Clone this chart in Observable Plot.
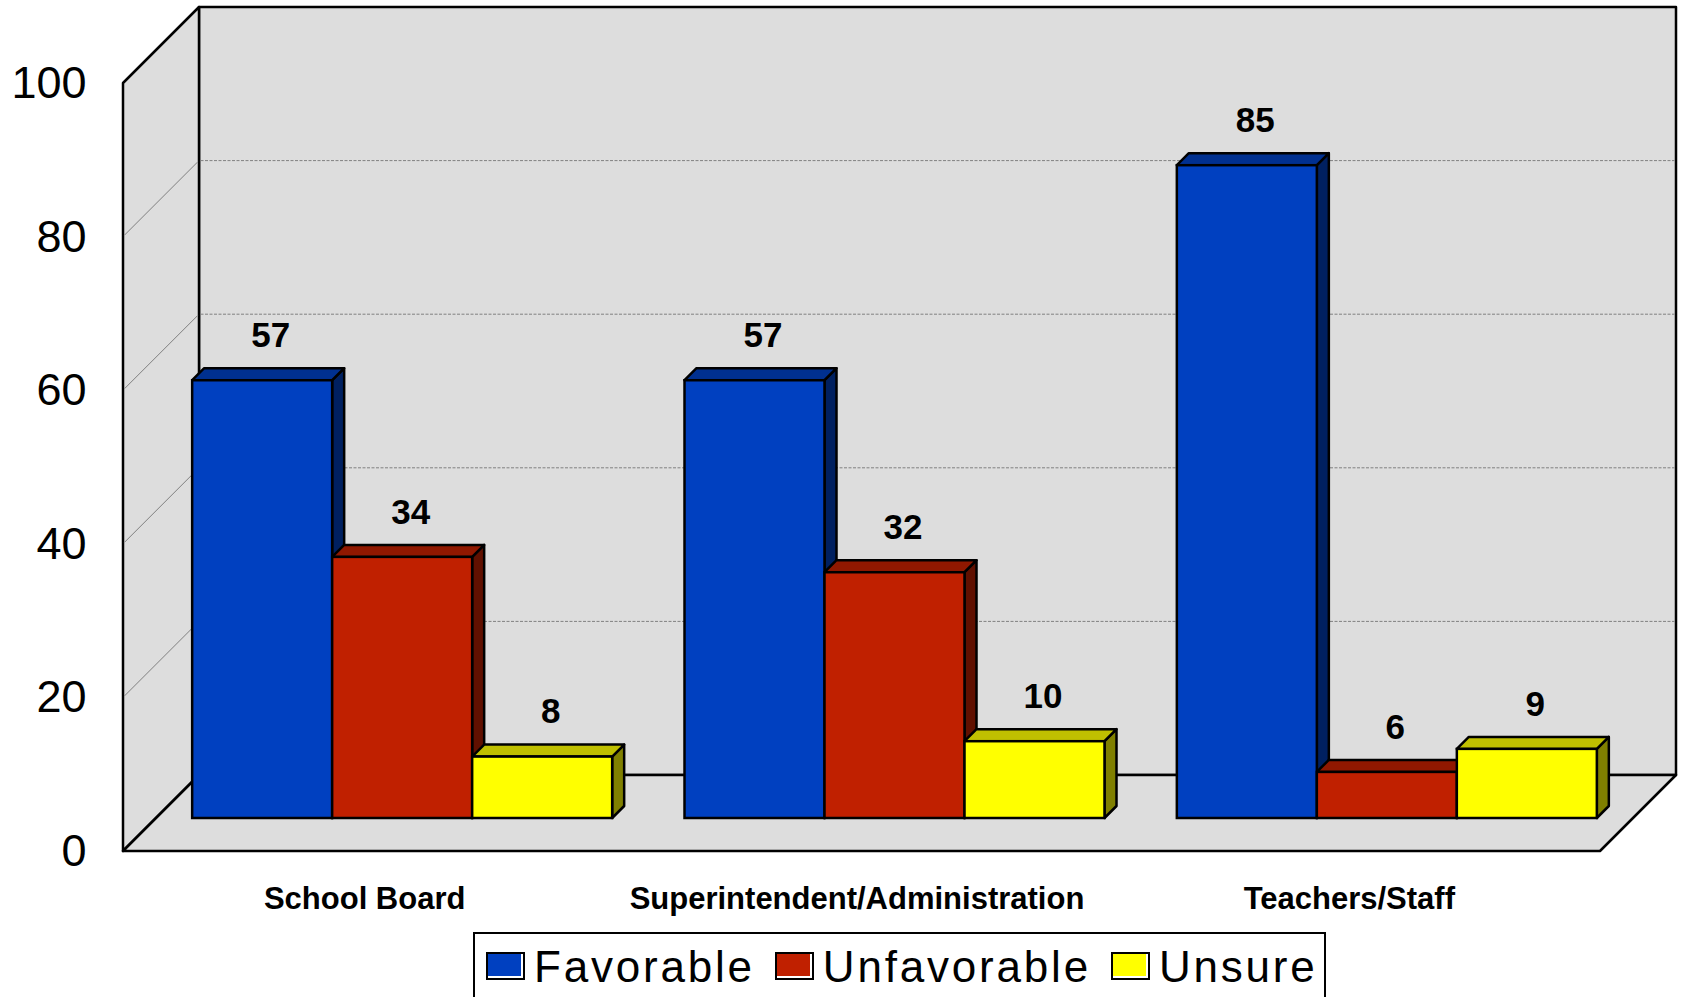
<!DOCTYPE html>
<html>
<head>
<meta charset="utf-8">
<script src="https://cdn.jsdelivr.net/npm/d3@7"></script>
<script src="https://cdn.jsdelivr.net/npm/@observablehq/plot@0.6"></script>
<style>
  body { margin: 0; background: #fff; font-family: "Liberation Sans", Arial, sans-serif; }
  #wrap { position: relative; width: 1682px; height: 997px; overflow: hidden; background: #fff; }
  #wrap svg { display: block; }
  #legend {
    position: absolute; left: 473px; top: 932px; width: 853px; height: 90px;
    border: 2px solid #000; box-sizing: border-box; background: #fff;
    padding: 11px 0 0 11px; font-size: 44px; line-height: 44px;
    letter-spacing: 2.8px; white-space: nowrap; color: #000;
  }
  .item { display: inline-flex; align-items: baseline; margin-right: 20px; }
  .sw { display: inline-block; width: 39px; height: 28px; box-sizing: border-box; position: relative; top: -2px;
        border: 2px solid #000; box-shadow: inset -2px -2px 0 #fff; margin-right: 9px; }
</style>
</head>
<body>
<div id="wrap"></div>
<script>
// ---- data ----
const categories = ["School Board", "Superintendent/Administration", "Teachers/Staff"];
const seriesNames = ["Favorable", "Unfavorable", "Unsure"];
const favorable = [57, 57, 85];
const unfavorable = [34, 32, 6];
const unsure = [8, 10, 9];
const yTicks = [0, 20, 40, 60, 80, 100];
const gridValues = [20, 40, 60, 80];

// ---- styles ----
const frontColors = ["#0040C0", "#C02000", "#FFFF00"];
const topColors = ["#003090", "#901800", "#C0C000"];
const sideColors = ["#002060", "#601000", "#808000"];

const valuesBySeries = [favorable, unfavorable, unsure];
const rows = categories.flatMap((c, ci) =>
  seriesNames.map((s, si) => ({category: c, series: s, si, value: valuesBySeries[si][ci]})));

const W = 1682, H = 920, mTop = 83, mBottom = 69, mLeft = 123, mRight = 82;
const WALL = 76;   // depth of the 3D box (px)
const SHIFT = 33;  // depth position of the bars (px)
const BAR_D = 12;  // bar thickness (px)
const BAR_W = 140; // bar width (px)
const bandW = (W - mLeft - mRight) / categories.length;
const pad = (bandW - BAR_W * seriesNames.length) / 2;
const LABEL_NUDGE = 8;
const LABEL_RISE = 45;

function pts(a) { return a.map(p => p.join(",")).join(" "); }

function walls(index, scales, values, dims) {
  const y = scales.y;
  const L = dims.marginLeft, R = dims.width - dims.marginRight;
  const y0 = y(0), y1 = y(100);
  const g = d3.create("svg:g");
  const poly = (p) => g.append("polygon").attr("points", pts(p))
    .attr("fill", "#DDDDDD").attr("stroke", "#000").attr("stroke-width", 2.5).attr("stroke-linejoin", "round");
  poly([[L + WALL, y1 - WALL], [R + WALL, y1 - WALL], [R + WALL, y0 - WALL], [L + WALL, y0 - WALL]]);
  poly([[L, y1], [L + WALL, y1 - WALL], [L + WALL, y0 - WALL], [L, y0]]);
  for (const v of gridValues) {
    const yv = y(v);
    g.append("line").attr("x1", L + WALL + 1.5).attr("x2", R + WALL - 1.5)
      .attr("y1", yv - WALL).attr("y2", yv - WALL)
      .attr("stroke", "#808080").attr("stroke-width", 1).attr("stroke-dasharray", "3,1.5");
    g.append("line").attr("x1", L + 1.5).attr("x2", L + WALL - 1.5)
      .attr("y1", yv - 1.5).attr("y2", yv - WALL + 1.5)
      .attr("stroke", "#808080").attr("stroke-width", 1);
  }
  poly([[L, y0], [R, y0], [R + WALL, y0 - WALL], [L + WALL, y0 - WALL]]);
  return g.node();
}

function barFaces(index, scales, values, dims) {
  const x = scales.x, y = scales.y;
  const g = d3.create("svg:g").attr("stroke", "#000").attr("stroke-width", 2.5).attr("stroke-linejoin", "round");
  const sides = g.append("g"), tops = g.append("g");
  for (const r of rows) {
    const x0 = x(r.category) + pad + BAR_W * r.si + SHIFT;
    const x1 = x0 + BAR_W;
    const yb = y(0) - SHIFT, yt = y(r.value) - SHIFT;
    sides.append("polygon").attr("points", pts([[x1, yb], [x1, yt], [x1 + BAR_D, yt - BAR_D], [x1 + BAR_D, yb - BAR_D]]))
      .attr("fill", sideColors[r.si]);
    tops.append("polygon").attr("points", pts([[x0, yt], [x0 + BAR_D, yt - BAR_D], [x1 + BAR_D, yt - BAR_D], [x1, yt]]))
      .attr("fill", topColors[r.si]);
  }
  return g.node();
}

const fronts = seriesNames.map((s, i) => Plot.barY(rows.filter(d => d.si === i), {
  x: "category", y: "value", fill: frontColors[i], stroke: "#000", strokeWidth: 2.5,
  insetLeft: pad + BAR_W * i, insetRight: bandW - pad - BAR_W * (i + 1),
  dx: SHIFT, dy: -SHIFT
}));
const labels = seriesNames.map((s, i) => Plot.text(rows.filter(d => d.si === i), {
  x: "category", y: "value", text: d => String(d.value),
  dx: pad + BAR_W * i + BAR_W / 2 + SHIFT + LABEL_NUDGE - bandW / 2,
  dy: -SHIFT - LABEL_RISE, lineAnchor: "middle",
  fontSize: 35, fontWeight: "bold", fill: "#000"
}));

const chart = Plot.plot({
  width: W, height: H,
  marginTop: mTop, marginBottom: mBottom, marginLeft: mLeft, marginRight: mRight,
  style: {fontFamily: "'Liberation Sans', Arial, sans-serif", background: "white", overflow: "visible", color: "#000"},
  x: {domain: categories, padding: 0, round: false},
  y: {domain: [0, 100]},
  marks: [
    walls,
    barFaces,
    ...fronts,
    ...labels,
    Plot.axisX({tickSize: 0, tickPadding: 35, fontSize: 31, fontWeight: "bold", dx: -5, label: null}),
    Plot.axisY({ticks: yTicks, tickSize: 0, tickPadding: 37, fontSize: 45, label: null})
  ]
});

const wrap = document.getElementById("wrap");
wrap.appendChild(chart);

const legend = document.createElement("div");
legend.id = "legend";
seriesNames.forEach((s, i) => {
  const item = document.createElement("span");
  item.className = "item";
  const sw = document.createElement("span");
  sw.className = "sw";
  sw.style.background = frontColors[i];
  const lab = document.createElement("span");
  lab.textContent = s;
  item.appendChild(sw);
  item.appendChild(lab);
  legend.appendChild(item);
});
wrap.appendChild(legend);
</script>
</body>
</html>
